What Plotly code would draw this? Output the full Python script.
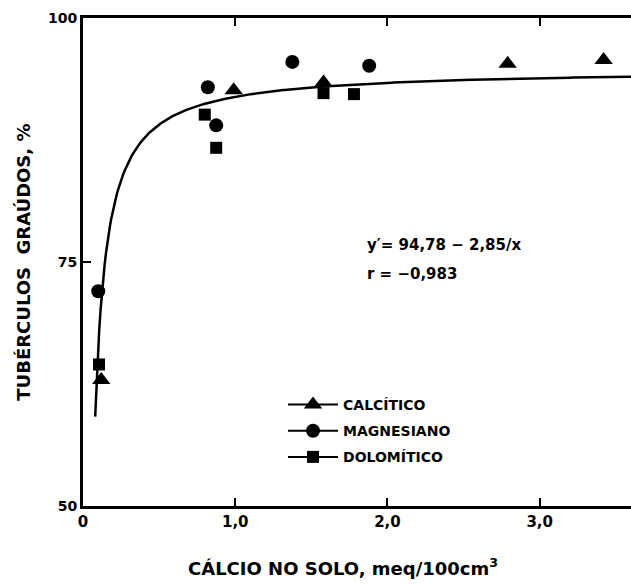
import numpy as np
import plotly.graph_objects as go

# ---- data ----
calcitico_x = [0.12, 0.99, 1.58, 2.79, 3.42]
calcitico_y = [62.9, 92.6, 93.4, 95.3, 95.7]

magnesiano_x = [0.10, 0.82, 0.875, 1.375, 1.88]
magnesiano_y = [72.0, 92.9, 89.0, 95.5, 95.1]

dolomitico_x = [0.105, 0.80, 0.875, 1.58, 1.78]
dolomitico_y = [64.5, 90.1, 86.7, 92.3, 92.2]

# fitted model printed on the chart: y' = 94,78 - 2,85/x
fit_a = 94.78
fit_b = 2.85
fit_x_start = 0.08
fit_x_end = 3.6

x_tickvals = [0, 1, 2, 3]
x_ticktext = ["<b>0</b>", "<b>1,0</b>", "<b>2,0</b>", "<b>3,0</b>"]
y_tickvals = [50, 75, 100]
y_ticktext = ["<b>50</b>", "<b>75</b>", "<b>100</b>"]

FONT = "DejaVu Sans"

fit_x = np.linspace(fit_x_start, fit_x_end, 400)
fit_y = fit_a - fit_b / fit_x

fig = go.Figure()

fig.add_trace(go.Scatter(x=fit_x, y=fit_y, mode="lines",
                         line=dict(color="black", width=2.5),
                         showlegend=False, hoverinfo="skip"))

series = [
    ("CALCÍTICO", calcitico_x, calcitico_y, "triangle-up", 16),
    ("MAGNESIANO", magnesiano_x, magnesiano_y, "circle", 14),
    ("DOLOMÍTICO", dolomitico_x, dolomitico_y, "square", 12),
]
for name, xs, ys, sym, sz in series:
    fig.add_trace(go.Scatter(x=xs, y=ys, mode="markers", name=name,
                             marker=dict(symbol=sym, size=sz, color="black"),
                             showlegend=False))
for i, (name, xs, ys, sym, sz) in enumerate(series):
    fig.add_trace(go.Scatter(x=[None], y=[None], mode="lines+markers",
                             name="<b>" + name + "</b>",
                             legendgroup="g%d" % i,
                             marker=dict(symbol=sym, size=sz, color="black"),
                             line=dict(color="black", width=2),
                             showlegend=True))

fig.update_layout(
    width=631, height=584,
    margin=dict(l=83, r=0, t=18, b=78),
    paper_bgcolor="white", plot_bgcolor="white",
    font=dict(family=FONT, color="black", size=14),
    showlegend=True,
    legend=dict(x=0.365, y=0.24, xanchor="left", yanchor="top",
                bgcolor="rgba(0,0,0,0)",
                font=dict(family=FONT, size=14, color="black"),
                itemwidth=50, tracegroupgap=5),
    xaxis=dict(range=[0, 3.6], tickvals=x_tickvals, ticktext=x_ticktext,
               ticks="inside", ticklen=8, tickwidth=2, tickcolor="black",
               showline=True, linewidth=3, linecolor="black", mirror="ticks",
               showgrid=False, zeroline=False,
               tickfont=dict(family=FONT, size=15, color="black")),
    yaxis=dict(range=[50, 100], tickvals=y_tickvals, ticktext=y_ticktext,
               ticks="inside", ticklen=8, tickwidth=2, tickcolor="black",
               showline=True, linewidth=3, linecolor="black", mirror=False,
               showgrid=False, zeroline=False,
               tickfont=dict(family=FONT, size=14, color="black")),
    annotations=[
        dict(text="<b>CÁLCIO NO SOLO, meq/100cm<sup>3</sup></b>",
             xref="paper", yref="paper", x=0.475, y=-0.125,
             xanchor="center", yanchor="middle", showarrow=False,
             font=dict(family=FONT, size=18)),
        dict(text="<b>TUBÉRCULOS  GRAÚDOS, %</b>",
             xref="paper", yref="paper", x=-0.11, y=0.5, textangle=-90,
             xanchor="center", yanchor="middle", showarrow=False,
             font=dict(family=FONT, size=18)),
        dict(text="<b>y′= 94,78 − 2,85/x</b>",
             xref="paper", yref="paper", x=0.515, y=0.535,
             xanchor="left", yanchor="middle", showarrow=False,
             font=dict(family=FONT, size=15)),
        dict(text="<b>r = −0,983</b>",
             xref="paper", yref="paper", x=0.515, y=0.475,
             xanchor="left", yanchor="middle", showarrow=False,
             font=dict(family=FONT, size=15)),
    ],
)

fig.write_html("out.html", config={"displayModeBar": False},
               post_script="document.body.style.margin='0px';")
